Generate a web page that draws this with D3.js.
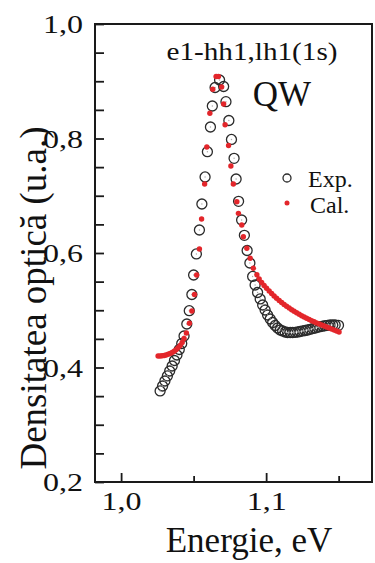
<!DOCTYPE html>
<html>
<head>
<meta charset="utf-8">
<script src="https://cdn.jsdelivr.net/npm/d3@7"></script>
<style>
  html, body { margin: 0; padding: 0; background: #fff; }
  svg { display: block; }
  text { font-family: "Liberation Serif", "Times New Roman", serif; fill: #111; }
</style>
</head>
<body>
<svg id="chart" width="375" height="563"></svg>
<script>
// Measured absorption (open circles), energy in eV
const expEnergy = [
  1.0269, 1.0286, 1.0302, 1.0319, 1.0335, 1.0352, 1.0368, 1.0385, 1.0401, 1.0418,
  1.0434, 1.0453, 1.0470, 1.0488, 1.0500, 1.0519, 1.0540, 1.0557, 1.0579, 1.0595,
  1.0616, 1.0629, 1.0648, 1.0679, 1.0707, 1.0723, 1.0743, 1.0761, 1.0779, 1.0793,
  1.0810, 1.0831, 1.0850, 1.0869, 1.0888, 1.0907, 1.0924, 1.0941, 1.0959, 1.0976,
  1.0993, 1.1010, 1.1028, 1.1045, 1.1062, 1.1079, 1.1097, 1.1114, 1.1131, 1.1148,
  1.1166, 1.1183, 1.1200, 1.1217, 1.1234, 1.1252, 1.1269, 1.1286, 1.1303, 1.1321,
  1.1338, 1.1355, 1.1372, 1.1390, 1.1407, 1.1424, 1.1441, 1.1459, 1.1476, 1.1499
];
const expDensity = [
  0.3590, 0.3677, 0.3764, 0.3852, 0.3939, 0.4026, 0.4122, 0.4218, 0.4314, 0.4419,
  0.4550, 0.4760, 0.4992, 0.5275, 0.5616, 0.5983, 0.6402, 0.6856, 0.7328, 0.7769,
  0.8201, 0.8568, 0.8891, 0.9022, 0.8908, 0.8643, 0.8314, 0.7983, 0.7654, 0.7293,
  0.6903, 0.6576, 0.6309, 0.6044, 0.5825, 0.5590, 0.5441, 0.5310, 0.5197, 0.5092,
  0.5004, 0.4917, 0.4847, 0.4786, 0.4734, 0.4690, 0.4655, 0.4638, 0.4620, 0.4611,
  0.4611, 0.4611, 0.4615, 0.4620, 0.4629, 0.4638, 0.4646, 0.4655, 0.4667, 0.4679,
  0.4690, 0.4702, 0.4713, 0.4721, 0.4730, 0.4737, 0.4742, 0.4742, 0.4742, 0.4737
];

// Calculated spectrum (red dots)
const calEnergy = [
  1.0255, 1.0269, 1.0283, 1.0297, 1.0310, 1.0324, 1.0338, 1.0352, 1.0366, 1.0379,
  1.0393, 1.0407, 1.0421, 1.0434, 1.0450, 1.0471, 1.0488, 1.0506, 1.0521, 1.0540,
  1.0555, 1.0576, 1.0591, 1.0612, 1.0632, 1.0655, 1.0671, 1.0693, 1.0707, 1.0717,
  1.0741, 1.0757, 1.0774, 1.0798, 1.0809, 1.0832, 1.0843, 1.0867, 1.0890, 1.0912,
  1.0936, 1.0952, 1.0969, 1.0986, 1.1003, 1.1021, 1.1038, 1.1055, 1.1072, 1.1090,
  1.1107, 1.1124, 1.1141, 1.1159, 1.1176, 1.1193, 1.1210, 1.1228, 1.1245, 1.1262,
  1.1279, 1.1297, 1.1314, 1.1331, 1.1348, 1.1366, 1.1383, 1.1400, 1.1417, 1.1434,
  1.1452, 1.1469, 1.1486, 1.1503
];
const calDensity = [
  0.4201, 0.4201, 0.4204, 0.4210, 0.4218, 0.4231, 0.4245, 0.4262, 0.4283, 0.4309,
  0.4344, 0.4384, 0.4437, 0.4507, 0.4603, 0.4772, 0.4987, 0.5275, 0.5616, 0.6070,
  0.6594, 0.7205, 0.7852, 0.8440, 0.8859, 0.9083, 0.9083, 0.8900, 0.8603, 0.8241,
  0.7878, 0.7520, 0.7205, 0.6896, 0.6693, 0.6489, 0.6285, 0.6082, 0.5907, 0.5733,
  0.5620, 0.5546, 0.5485, 0.5432, 0.5383, 0.5336, 0.5293, 0.5249, 0.5209, 0.5170,
  0.5135, 0.5100, 0.5069, 0.5039, 0.5010, 0.4982, 0.4956, 0.4929, 0.4905, 0.4882,
  0.4859, 0.4838, 0.4817, 0.4798, 0.4779, 0.4760, 0.4742, 0.4725, 0.4707, 0.4690,
  0.4672, 0.4655, 0.4638, 0.4620
];

const xMajorTicks = [1.0, 1.1];
const xMinorTicks = [1.05, 1.15];
const yMajorTicks = [0.2, 0.4, 0.6, 0.8, 1.0];
const yMinorTicks = [0.25, 0.3, 0.35, 0.45, 0.5, 0.55, 0.65, 0.7, 0.75, 0.85, 0.9, 0.95];

const seriesNames = ["Exp.", "Cal."];
const annotation = "e1-hh1,lh1(1s)";
const sampleLabel = "QW";
const xTitle = "Energie, eV";
const yTitle = "Densitatea optică (u.a.)";

const expColor = "#2b2b2b";
const calColor = "#e3262b";
const serif = "'Liberation Serif', 'Times New Roman', serif";

const svg = d3.select("#chart");
const plot = { left: 95, right: 372, top: 24, bottom: 482 };

const x = d3.scaleLinear().domain([0.982, 1.173]).range([plot.left, plot.right]);
const y = d3.scaleLinear().domain([0.2, 1.0]).range([plot.bottom, plot.top]);

const ro = d3.formatLocale({ decimal: ",", thousands: ".", grouping: [3], currency: ["", ""] });
const fmt = ro.format(".1f");

// Axes: ticks point into the plot area
const xAxisMajor = svg.append("g")
  .attr("transform", `translate(0,${plot.bottom})`)
  .call(d3.axisBottom(x).tickValues(xMajorTicks).tickSize(-9).tickFormat(fmt));
const xAxisMinor = svg.append("g")
  .attr("transform", `translate(0,${plot.bottom})`)
  .call(d3.axisBottom(x).tickValues(xMinorTicks).tickSize(-6).tickFormat(""));
const yAxisMajor = svg.append("g")
  .attr("transform", `translate(${plot.left},0)`)
  .call(d3.axisLeft(y).tickValues(yMajorTicks).tickSize(-9).tickFormat(fmt));
const yAxisMinor = svg.append("g")
  .attr("transform", `translate(${plot.left},0)`)
  .call(d3.axisLeft(y).tickValues(yMinorTicks).tickSize(-9).tickFormat(""));

[xAxisMajor, xAxisMinor, yAxisMajor, yAxisMinor].forEach(g => {
  g.attr("font-family", serif);
  g.select(".domain").remove();
  g.selectAll(".tick line").attr("stroke", "#1a1a1a").attr("stroke-width", 1.8);
});

xAxisMajor.selectAll(".tick text")
  .attr("y", 28).attr("dy", 0)
  .attr("font-size", 25).attr("font-family", serif)
  .attr("textLength", 40).attr("lengthAdjust", "spacingAndGlyphs")
  .attr("fill", "#111");
yAxisMajor.selectAll(".tick text")
  .attr("x", -12).attr("dy", 8.5)
  .attr("font-size", 25).attr("font-family", serif)
  .attr("textLength", 40).attr("lengthAdjust", "spacingAndGlyphs")
  .attr("fill", "#111");

// Frame
svg.append("rect")
  .attr("x", plot.left).attr("y", plot.top)
  .attr("width", plot.right - plot.left).attr("height", plot.bottom - plot.top)
  .attr("fill", "none").attr("stroke", "#1a1a1a").attr("stroke-width", 2);

// Experimental points: open circles with a faint centre dot
const expPts = expEnergy.map((e, i) => ({ e, d: expDensity[i] }));
const gExp = svg.append("g");
gExp.selectAll("circle.ring").data(expPts).join("circle")
  .attr("class", "ring")
  .attr("cx", p => x(p.e)).attr("cy", p => y(p.d)).attr("r", 5)
  .attr("fill", "none").attr("stroke", expColor).attr("stroke-width", 1.3);
gExp.selectAll("circle.dot").data(expPts).join("circle")
  .attr("class", "dot")
  .attr("cx", p => x(p.e)).attr("cy", p => y(p.d)).attr("r", 0.7)
  .attr("fill", "#aaa");

// Calculated points: small red discs
const calPts = calEnergy.map((e, i) => ({ e, d: calDensity[i] }));
svg.append("g").selectAll("circle").data(calPts).join("circle")
  .attr("cx", p => x(p.e)).attr("cy", p => y(p.d)).attr("r", 2.7)
  .attr("fill", calColor);

// Annotations
svg.append("text")
  .attr("x", 252).attr("y", 60).attr("text-anchor", "middle")
  .attr("font-size", 25)
  .attr("textLength", 171).attr("lengthAdjust", "spacingAndGlyphs")
  .text(annotation);
svg.append("text")
  .attr("x", 282).attr("y", 106).attr("text-anchor", "middle")
  .attr("font-size", 35)
  .text(sampleLabel);

// Legend
const legend = svg.append("g");
legend.append("circle").attr("cx", 287).attr("cy", 178).attr("r", 4)
  .attr("fill", "none").attr("stroke", expColor).attr("stroke-width", 1.3);
legend.append("text").attr("x", 308).attr("y", 187).attr("font-size", 24).text(seriesNames[0]);
legend.append("circle").attr("cx", 287).attr("cy", 203).attr("r", 2.5).attr("fill", calColor);
legend.append("text").attr("x", 310).attr("y", 213).attr("font-size", 24).text(seriesNames[1]);

// Axis titles
svg.append("text")
  .attr("x", 249).attr("y", 552).attr("text-anchor", "middle")
  .attr("font-size", 35)
  .text(xTitle);
svg.append("text")
  .attr("transform", "translate(46,298) rotate(-90)")
  .attr("text-anchor", "middle")
  .attr("font-size", 37)
  .text(yTitle);
</script>
</body>
</html>
